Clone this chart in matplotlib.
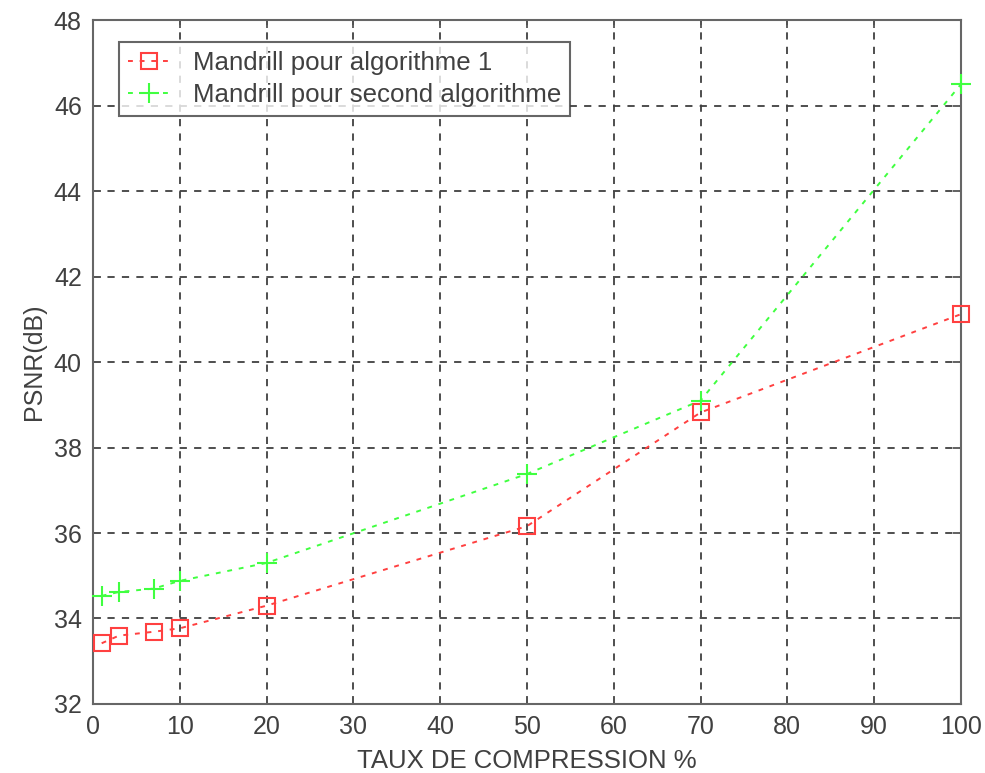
import matplotlib
matplotlib.use("Agg")
import matplotlib.pyplot as plt

x = [1, 3, 7, 10, 20, 50, 70, 100]
algo1 = [33.42, 33.6, 33.69, 33.77, 34.3, 36.16, 38.82, 41.12]
algo2 = [34.53, 34.62, 34.7, 34.88, 35.3, 37.38, 39.1, 46.5]
labels = ["Mandrill pour algorithme 1", "Mandrill pour second algorithme"]
xticks = list(range(0, 101, 10))
yticks = list(range(32, 49, 2))

plt.rcParams['font.family'] = ['Liberation Sans', 'DejaVu Sans']
txt = '#404040'
fs = 18
fig = plt.figure(figsize=(9.85, 7.73), dpi=100)
ax = fig.add_axes([0.0944, 0.0893, 0.8812, 0.8847])

ax.plot(x, algo1, color='#ff4040', linestyle=(0, (2.5, 3.5)), linewidth=1.4,
        marker='s', markersize=12, markerfacecolor='none', markeredgewidth=1.5,
        label=labels[0], clip_on=False, zorder=3)
ax.plot(x, algo2, color='#40ff40', linestyle=(0, (2.5, 3.5)), linewidth=1.4,
        marker='+', markersize=15, markeredgewidth=1.5, label=labels[1],
        clip_on=False, zorder=3)

ax.set_xlim(0, 100)
ax.set_ylim(32, 48)
ax.set_xticks(xticks)
ax.set_yticks(yticks)
ax.grid(True, color='#404040', linestyle=(0, (4, 4)), linewidth=1.3)
ax.tick_params(direction='in', length=6, width=1.3, colors='#555555',
               labelcolor=txt, labelsize=fs, top=True, right=True, pad=8)
for s in ax.spines.values():
    s.set_color('#666666')
    s.set_linewidth(1.5)
ax.set_xlabel("TAUX DE COMPRESSION %", fontsize=18.5, color=txt, labelpad=7)
ax.set_ylabel("PSNR(dB)", fontsize=fs, color=txt, labelpad=6)

leg = ax.legend(loc='upper left', bbox_to_anchor=(0.03, 0.968), fontsize=18.6,
                frameon=True, fancybox=False, edgecolor='#404040',
                handlelength=1.65, borderpad=0.35, labelspacing=0.3,
                handletextpad=0.85, borderaxespad=0)
leg.get_frame().set_linewidth(1.5)
for t in leg.get_texts():
    t.set_color(txt)

fig.savefig("out.png", dpi=100)
